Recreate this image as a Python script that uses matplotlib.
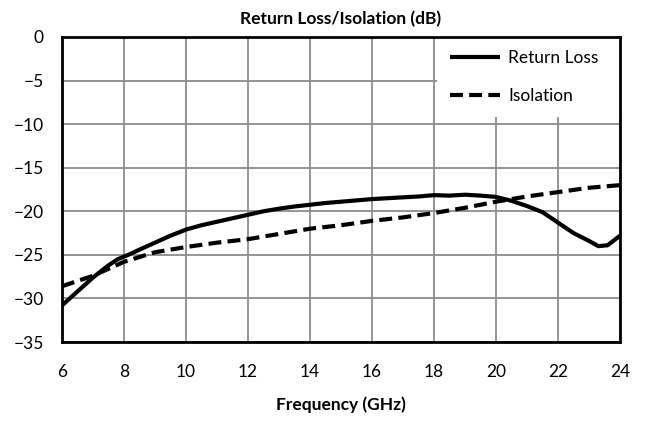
import matplotlib
matplotlib.use("Agg")
import matplotlib.pyplot as plt

freq_rl = [6.0, 6.5, 7.0, 7.5, 7.8, 8.2, 8.5, 9.0, 9.5, 10.0, 10.5, 11.0, 11.5, 12.0, 12.5, 13.0, 13.5, 14.0, 14.5, 15.0,
           15.5, 16.0, 16.5, 17.0, 17.5, 18.0, 18.5, 19.0, 19.5, 20.0, 20.5, 21.0, 21.5, 22.0, 22.5, 23.0, 23.3, 23.6, 24.0]
return_loss = [-30.8, -29.2, -27.6, -26.2, -25.5, -24.9, -24.4, -23.6, -22.8, -22.1, -21.6, -21.2, -20.8, -20.4, -20.0,
               -19.7, -19.45, -19.25, -19.05, -18.9, -18.75, -18.6, -18.5, -18.4, -18.3, -18.15, -18.2, -18.1, -18.2,
               -18.35, -18.8, -19.4, -20.1, -21.3, -22.5, -23.4, -24.0, -23.9, -22.8]

freq_iso = [6.0, 7.0, 8.0, 9.0, 10.0, 11.0, 12.0, 13.0, 14.0, 15.0, 16.0, 17.0, 18.0, 19.0, 20.0, 21.0, 22.0, 23.0, 24.0]
isolation = [-28.6, -27.4, -25.8, -24.7, -24.1, -23.6, -23.2, -22.6, -22.0, -21.6, -21.1, -20.7, -20.2, -19.6, -18.9,
             -18.3, -17.8, -17.3, -17.0]

x_ticks = [6, 8, 10, 12, 14, 16, 18, 20, 22, 24]
y_ticks = [0, -5, -10, -15, -20, -25, -30, -35]

plt.rcParams['font.family'] = ['Lato', 'DejaVu Sans']

fig = plt.figure(figsize=(6.47, 4.23), dpi=100)
ax = fig.add_axes([62/647, 1-342/423, (620-62)/647, (342-37)/423])

ax.plot(freq_rl, return_loss, color='black', lw=3.0, label='Return Loss', solid_capstyle='butt', zorder=2)
ax.plot(freq_iso, isolation, color='black', lw=3.0, ls=(0, (3.1, 1.5)), label='Isolation',
        dash_capstyle='butt', zorder=2)

ax.set_xlim(6, 24)
ax.set_ylim(-35, 0)
ax.set_xticks(x_ticks)
ax.set_yticks(y_ticks)
ax.tick_params(axis='x', length=0, labelsize=12.5, pad=16)
ax.tick_params(axis='y', length=0, labelsize=12.5, pad=13)
ax.grid(True, color='#8c8c8c', lw=1.3)
ax.set_axisbelow(True)
for s in ax.spines.values():
    s.set_linewidth(2)
    s.set_color('black')
    s.set_zorder(10)

ax.set_title('Return Loss/Isolation (dB)', fontsize=12.5, fontweight='bold', pad=9)
ax.set_xlabel('Frequency (GHz)', fontsize=12.5, fontweight='bold', labelpad=12)

leg = ax.legend(loc='upper left', bbox_to_anchor=(0.672, 0.0, 0.328, 1.0), mode='expand',
                fontsize=12.5, frameon=True, fancybox=False, handlelength=2.9,
                borderaxespad=0.0, borderpad=0.75, labelspacing=1.25, handletextpad=0.45)
leg.get_frame().set_edgecolor('none')
leg.get_frame().set_facecolor('white')
leg.get_frame().set_alpha(1.0)
leg.set_zorder(5)

fig.savefig('out.png', dpi=100)
